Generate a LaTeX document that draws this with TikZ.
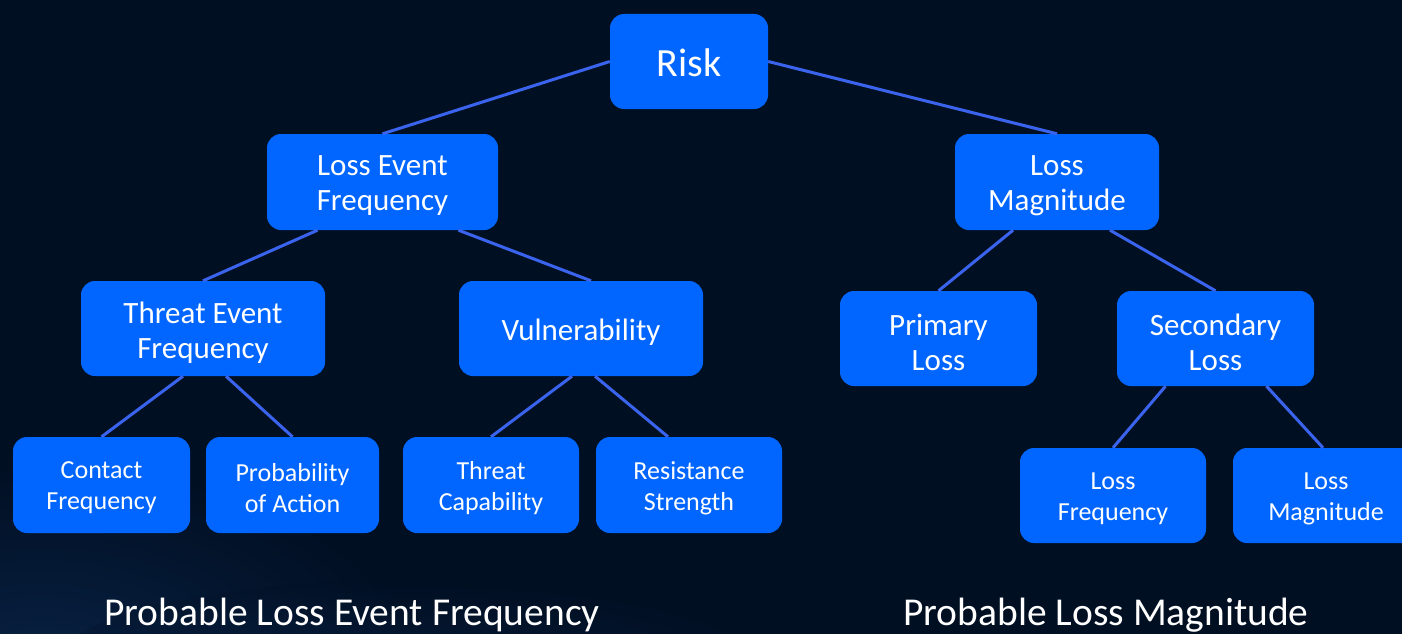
\documentclass[tikz,border=0pt]{standalone}
\usepackage{fontspec}
\setmainfont{Carlito}
\usetikzlibrary{calc}
\definecolor{bgnavy}{HTML}{010F22}
\definecolor{boxblue}{HTML}{0066FF}
\definecolor{linkblue}{HTML}{3A64EE}
\definecolor{glow}{HTML}{17427F}
\tikzset{
  box/.style={fill=boxblue, rounded corners=14pt, inner sep=0pt},
  boxtext/.style={text=white, align=center, inner sep=0pt},
  toptxt/.style={boxtext, font=\fontsize{40}{44}\selectfont, yshift=-1pt},
  midtxt/.style={boxtext, font=\fontsize{31}{35}\selectfont, yshift=-4pt},
  smalltxt/.style={boxtext, font=\fontsize{26}{31}\selectfont, yshift=-3pt},
  caption/.style={text=white, font=\fontsize{39.5}{44}\selectfont},
  link/.style={draw=linkblue, line width=3pt},
}
% a rounded box named #1 at centre #2, size #3 x #4, text style #5, text #6
\newcommand\treebox[6]{%
  \node[box, minimum width=#3pt, minimum height=#4pt] (#1) at (#2) {};
  \node[#5] (#1-txt) at (#1.center) {#6};
}
\begin{document}
\begin{tikzpicture}[x=1pt,y=-1pt]
  % page and backdrop
  \useasboundingbox (0,0) rectangle (1402,634);
  \fill[bgnavy] (0,0) rectangle (1402,634);
  \begin{scope}
    \clip (0,0) rectangle (1402,634);
    \shade[inner color=glow, outer color=bgnavy, opacity=0.35]
      (40,660) ellipse [x radius=380, y radius=200];
    \shade[inner color=glow, outer color=bgnavy, opacity=0.2]
      (420,660) ellipse [x radius=360, y radius=80];
  \end{scope}

  % tree nodes
  \treebox{risk}{689,61.5}{158}{95}{toptxt}{Risk}

  \treebox{lef}{382.5,182}{231}{96}{midtxt}{Loss Event\\Frequency}
  \treebox{lm}{1057,182}{204}{96}{midtxt}{Loss\\Magnitude}

  \treebox{tef}{203,328.5}{244}{95}{midtxt}{Threat Event\\Frequency}
  \treebox{vul}{581,328.5}{244}{95}{midtxt}{Vulnerability}
  \treebox{pl}{938.5,338.5}{197}{95}{midtxt}{Primary\\Loss}
  \treebox{sl}{1215.5,338.5}{197}{95}{midtxt}{Secondary\\Loss}

  \treebox{cf}{101.5,485}{177}{96}{smalltxt}{Contact\\Frequency}
  \treebox{pa}{292.5,485}{173}{96}{smalltxt}{Probability\\of Action}
  \treebox{tc}{491,485}{176}{96}{smalltxt}{Threat\\Capability}
  \treebox{rs}{689,485}{186}{96}{smalltxt}{Resistance\\Strength}
  \treebox{lf}{1113,495.5}{186}{95}{smalltxt}{Loss\\Frequency}
  \treebox{lmb}{1326,495.5}{186}{95}{smalltxt}{Loss\\Magnitude}

  % connectors
  \draw[link] (risk.west) -- (lef.north);
  \draw[link] (risk.east) -- (lm.north);
  \draw[link] ($(lef.south)+(-65,0)$) -- (tef.north);
  \draw[link] ($(lef.south)+(76,0)$) -- ($(vul.north)+(10,0)$);
  \draw[link] ($(lm.south)+(-44,0)$) -- (pl.north);
  \draw[link] ($(lm.south)+(53,0)$) -- (sl.north);
  \draw[link] ($(tef.south)+(-20,0)$) -- (cf.north);
  \draw[link] ($(tef.south)+(23,0)$) -- (pa.north);
  \draw[link] ($(vul.south)+(-9,0)$) -- (tc.north);
  \draw[link] ($(vul.south)+(14,0)$) -- ($(rs.north)+(-21,0)$);
  \draw[link] ($(sl.south)+(-50,0)$) -- (lf.north);
  \draw[link] ($(sl.south)+(51,0)$) -- ($(lmb.north)+(-3,0)$);

  % section captions
  \node[caption] (capf) at (352,615) {Probable Loss Event Frequency};
  \node[caption] (capm) at (1106,615) {Probable Loss Magnitude};
\end{tikzpicture}
\end{document}
